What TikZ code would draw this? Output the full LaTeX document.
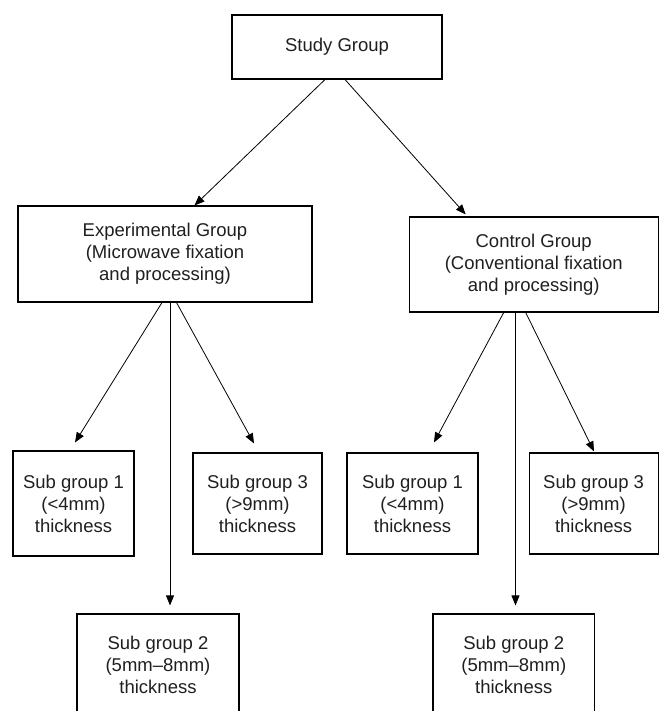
\documentclass[tikz,border=0pt]{standalone}
\usepackage{fontspec}
\setmainfont{Liberation Sans}
\usetikzlibrary{arrows.meta}
\begin{document}
\begin{tikzpicture}[x=1pt,y=-1pt,
  box/.style={draw, line width=1.1pt, inner sep=0pt, align=center, text=black!88,
    font=\fontsize{18.5}{22}\selectfont},
  arr/.style={line width=0.8pt, -{Triangle[length=10pt,width=8pt]}}]
\useasboundingbox (0,0) rectangle (659,711);
\node[box, minimum width=210pt, minimum height=64pt] (study) at (337,47) {Study Group};
\node[box, minimum width=294pt, minimum height=96pt] (exp) at (165,254) {Experimental Group\\(Microwave fixation\\and processing)};
\node[box, minimum width=249pt, minimum height=95pt] (ctrl) at (533.7,264.5) {Control Group\\(Conventional fixation\\and processing)};
\node[box, minimum width=121pt, minimum height=105pt] (s1l) at (73.5,503.5) {Sub group 1\\(<4mm)\\thickness};
\node[box, minimum width=129pt, minimum height=101pt] (s3l) at (257.5,503.5) {Sub group 3\\(>9mm)\\thickness};
\node[box, minimum width=131pt, minimum height=101pt] (s1r) at (412.5,503.5) {Sub group 1\\(<4mm)\\thickness};
\node[box, minimum width=129pt, minimum height=101pt] (s3r) at (593.6,503.5) {Sub group 3\\(>9mm)\\thickness};
\node[box, minimum width=162pt, minimum height=102pt] (s2l) at (158,665) {Sub group 2\\(5mm–8mm)\\thickness};
\node[box, minimum width=161.5pt, minimum height=102pt] (s2r) at (513.75,665) {Sub group 2\\(5mm–8mm)\\thickness};
\draw[arr] ([xshift=-12pt]study.south) -- ([xshift=29.5pt]exp.north);
\draw[arr] ([xshift=8pt]study.south) -- ([xshift=-68pt,yshift=2pt]ctrl.north);
\draw[arr] ([xshift=-3pt]exp.south) -- ([xshift=1.5pt,yshift=8pt]s1l.north);
\draw[arr] ([xshift=11.5pt]exp.south) -- ([xshift=-3.5pt,yshift=9pt]s3l.north);
\draw[arr] ([xshift=5pt]exp.south) -- ([xshift=12pt,yshift=8pt]s2l.north);
\draw[arr] ([xshift=-30pt]ctrl.south) -- ([xshift=21.5pt,yshift=10pt]s1r.north);
\draw[arr] ([xshift=-8pt]ctrl.south) -- ([xshift=0.4pt,yshift=1pt]s3r.north);
\draw[arr] ([xshift=-18.2pt]ctrl.south) -- ([xshift=1.75pt,yshift=8pt]s2r.north);
\end{tikzpicture}
\end{document}
